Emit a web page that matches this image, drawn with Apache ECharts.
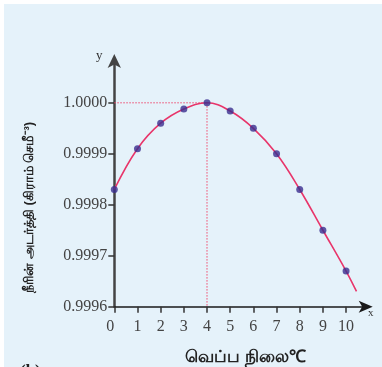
<!DOCTYPE html>
<html>
<head>
<meta charset="utf-8">
<script src="https://cdn.jsdelivr.net/npm/echarts@6/dist/echarts.min.js"></script>
<style>
  html, body { margin: 0; padding: 0; background: #ffffff; }
  #chart { position: absolute; left: 4px; top: 4px; width: 378px; height: 363px; }
</style>
</head>
<body>
<div id="chart"></div>
<script>
// water density vs temperature
var temps = [0, 1, 2, 3, 4, 5, 6, 7, 8, 9, 10];
var density = [0.99983, 0.99991, 0.99996, 0.999988, 1.0000, 0.999984, 0.99995, 0.99990, 0.99983, 0.99975, 0.99967];
// fitted curve (runs a little past 10)
var curveX = [0, 1, 2, 3, 4, 5, 6, 7, 8, 9, 10, 10.45];
var curveY = [0.99983, 0.99991, 0.99996, 0.999988, 1.0000, 0.999984, 0.99995, 0.99990, 0.99983, 0.99975, 0.99967, 0.99963];
var xTicks = [0, 1, 2, 3, 4, 5, 6, 7, 8, 9, 10];
var yTicks = [0.9996, 0.9997, 0.9998, 0.9999, 1.0000];
var peakX = 4, peakY = 1.0000;

var chart = echarts.init(document.getElementById('chart'));

var serif = 'Liberation Serif';
var red = '#e8356a';

var option = {
    backgroundColor: '#e5f2fa',
    animation: false,
    grid: { left: 110.3, top: 56, right: 15.3, bottom: 60.3, outerBoundsMode: 'none' },
    xAxis: {
        type: 'value',
        min: 0,
        max: 10.89,
        name: 'வெப்ப நிலை℃',
        nameLocation: 'middle',
        nameGap: 42,
        nameTextStyle: { fontSize: 17, fontWeight: 'bold', color: '#222', padding: [0, 0, 0, 10] },
        axisLine: { lineStyle: { color: '#1a1a1a', width: 1.5 }, symbol: ['none', 'arrow'], symbolSize: [9, 14], symbolOffset: [0, 6] },
        axisTick: { customValues: xTicks, length: 6, lineStyle: { color: '#333', width: 1.5 } },
        axisLabel: {
            customValues: xTicks,
            margin: 12,
            fontFamily: serif, fontSize: 16, color: '#444',
            alignMinLabel: 'right'
        },
        splitLine: { show: false }
    },
    yAxis: {
        type: 'value',
        min: 0.9996,
        max: 1.000084,
        name: 'நீரின் அடர்த்தி (கிராம் செமீ⁻³)',
        nameLocation: 'middle',
        nameRotate: 90,
        nameGap: 78,
        nameTextStyle: { fontSize: 13, fontWeight: 'bold', color: '#222', padding: [0, 48, 0, 0] },
        axisLine: { lineStyle: { color: '#444', width: 2.5 }, symbol: ['none', 'arrow'], symbolSize: [10, 14], symbolOffset: [0, 6] },
        axisTick: { customValues: yTicks, length: 6, lineStyle: { color: '#333', width: 1.5 } },
        axisLabel: {
            customValues: yTicks,
            margin: 7,
            fontFamily: serif, fontSize: 16, color: '#444',
            formatter: function (v) { return v.toFixed(4); }
        },
        splitLine: { show: false }
    },
    series: [
        {
            // dotted guide to the maximum
            type: 'line',
            data: [[0, peakY], [peakX, peakY], [peakX, yTicks[0]]],
            showSymbol: false,
            lineStyle: { color: '#ef4a6e', type: [1.5, 1.5], width: 1 },
            silent: true,
            z: 1
        },
        {
            type: 'line',
            data: curveX.map(function (x, i) { return [x, curveY[i]]; }),
            smooth: 0.4,
            showSymbol: false,
            lineStyle: { color: red, width: 1.6 },
            z: 2
        },
        {
            type: 'scatter',
            data: temps.map(function (x, i) { return [x, density[i]]; }),
            symbolSize: 7,
            itemStyle: { color: '#3a2d8f' },
            z: 3
        }
    ],
    graphic: [
        { type: 'text', left: 92, top: 45, style: { text: 'y', font: '13px "Liberation Serif"', fill: '#333' } },
        { type: 'text', left: 364, top: 304, style: { text: 'x', font: '11px "Liberation Serif"', fill: '#333' } },
        { type: 'text', left: 16, top: 359, style: { text: '(b)', font: 'bold 17px "Liberation Serif"', fill: '#222' } }
    ]
};

chart.setOption(option);

window.onresize = function () {
    chart.resize();
};
</script>
</body>
</html>
